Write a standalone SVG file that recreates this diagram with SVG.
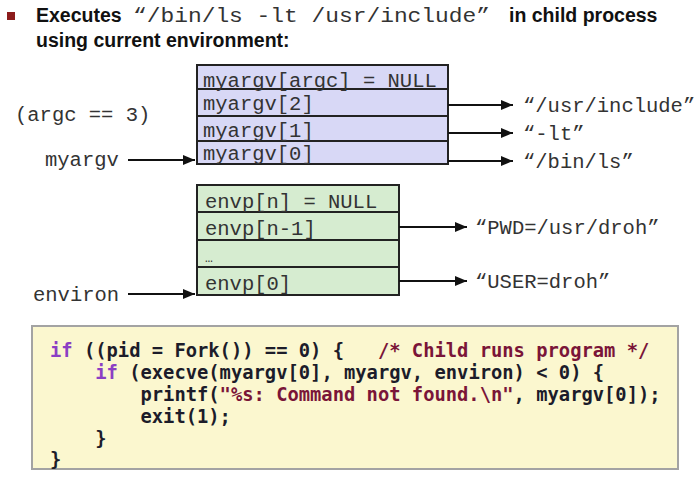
<svg xmlns="http://www.w3.org/2000/svg" width="700" height="481" viewBox="0 0 700 481">
<defs>
<marker id="ah" viewBox="0 0 12 10" refX="12" refY="5" markerWidth="12" markerHeight="10" markerUnits="userSpaceOnUse" orient="auto">
<path d="M0,0 L12,5 L0,10 z" fill="#111"/>
</marker>
<style>
.ttl{font-family:"Liberation Sans",Arial,sans-serif;font-weight:bold;font-size:19.5px;fill:#111}
.ttm{font-family:"Liberation Mono","Courier New",monospace;font-size:21px;fill:#333}
.m{font-family:"Liberation Mono","Courier New",monospace;font-size:20.5px;fill:#333}
.row{stroke:#222;stroke-width:2}
.av{fill:#d8d8f6}
.ev{fill:#d6ecd0}
.con{stroke:#111;stroke-width:2;fill:none;marker-end:url(#ah)}
.code{font-family:"DejaVu Sans Mono",monospace;font-weight:bold;font-size:18.8px;fill:#1c1c2a}
.kw{fill:#8b3fc4}
.st{fill:#7a1538}
</style>
</defs>
<rect width="700" height="481" fill="#fff"/>

<g id="title">
<rect x="7" y="12" width="8" height="8" fill="#8c1c1c"/>
<text class="ttl" x="36" y="22">Executes</text>
<text class="ttm" x="133" y="22" textLength="357" lengthAdjust="spacingAndGlyphs">“/bin/ls -lt /usr/include”</text>
<text class="ttl" x="509" y="22">in child process</text>
<text class="ttl" x="36" y="47">using current environment:</text>
</g>

<g id="myargv-array">
<rect class="av row" x="197" y="65" width="251" height="99"/>
<line class="row" x1="197" y1="89" x2="448" y2="89"/>
<line class="row" x1="197" y1="116" x2="448" y2="116"/>
<line class="row" x1="197" y1="141" x2="448" y2="141"/>
<text class="m" x="203" y="87">myargv[argc] = NULL</text>
<text class="m" x="203" y="110">myargv[2]</text>
<text class="m" x="203" y="137">myargv[1]</text>
<text class="m" x="203" y="160">myargv[0]</text>
</g>

<g id="envp-array">
<rect class="ev row" x="197" y="185" width="202" height="110"/>
<line class="row" x1="197" y1="212" x2="399" y2="212"/>
<line class="row" x1="197" y1="240" x2="399" y2="240"/>
<line class="row" x1="197" y1="267" x2="399" y2="267"/>
<text class="m" x="205" y="208">envp[n] = NULL</text>
<text class="m" x="205" y="235">envp[n-1]</text>
<text class="m" x="205" y="262" style="font-size:13px">…</text>
<text class="m" x="205" y="290">envp[0]</text>
</g>

<g id="labels">
<text class="m" x="15" y="121">(argc == 3)</text>
<text id="myargv" class="m" x="45" y="166">myargv</text>
<text id="environ" class="m" x="33" y="301">environ</text>
<text id="arg2" class="m" x="523" y="112">“/usr/include”</text>
<text id="arg1" class="m" x="523" y="140">“-lt”</text>
<text id="arg0" class="m" x="523" y="168">“/bin/ls”</text>
<text id="env1" class="m" x="475" y="234">“PWD=/usr/droh”</text>
<text id="env0" class="m" x="475" y="288">“USER=droh”</text>
</g>

<g id="connectors">
<line class="con" x1="128" y1="160" x2="195" y2="160"/>
<line class="con" x1="128" y1="294" x2="195" y2="294"/>
<line class="con" x1="448" y1="105" x2="513" y2="105"/>
<line class="con" x1="448" y1="133" x2="513" y2="133"/>
<line class="con" x1="448" y1="161" x2="513" y2="161"/>
<line class="con" x1="399" y1="227" x2="467" y2="227"/>
<line class="con" x1="399" y1="281" x2="467" y2="281"/>
</g>

<g id="code">
<rect x="32" y="326" width="646" height="143" fill="#fbf7cf" stroke="#a3a3a3" stroke-width="2"/>
<text class="code" xml:space="preserve" x="50" y="357"><tspan class="kw">if</tspan> ((pid = Fork()) == 0) {   <tspan class="st">/* Child runs program */</tspan></text>
<text class="code" xml:space="preserve" x="50" y="379">    <tspan class="kw">if</tspan> (execve(myargv[0], myargv, environ) &lt; 0) {</text>
<text class="code" xml:space="preserve" x="50" y="401">        printf(<tspan class="st">"%s: Command not found.\n"</tspan>, myargv[0]);</text>
<text class="code" xml:space="preserve" x="50" y="423">        exit(1);</text>
<text class="code" xml:space="preserve" x="50" y="445">    }</text>
<text class="code" xml:space="preserve" x="50" y="466">}</text>
</g>
</svg>
